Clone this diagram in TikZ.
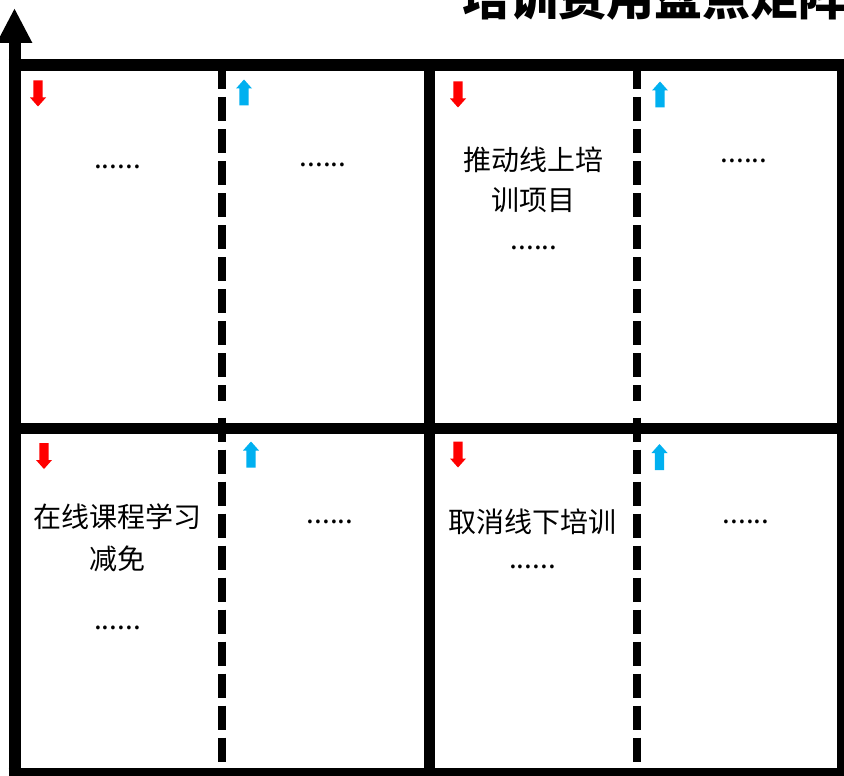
\documentclass[tikz,border=0pt]{standalone}
\usepackage{fontspec}
\newfontfamily\cjk{Noto Sans CJK SC}
\usetikzlibrary{arrows.meta}
\definecolor{downred}{HTML}{FF0000}
\definecolor{upblue}{HTML}{00B0F0}
\tikzset{
  cell/.style={font=\cjk\fontsize{28}{40}\selectfont, align=center, inner sep=0pt, text=black},
  dots/.style={font=\cjk\fontsize{28}{34}\selectfont, inner sep=0pt, text=black},
  titletext/.style={font=\cjk\bfseries\fontsize{48}{52}\selectfont, inner sep=0pt, text=black},
  thick line/.style={line width=12pt},
  mid line/.style={line width=11pt},
  dash line/.style={line width=8pt, dash pattern=on 24pt off 8pt},
  downarr/.pic={\fill[downred] (-4.6,-13) -- (4.6,-13) -- (4.6,4) -- (8,4) -- (0,13) -- (-8,4) -- (-4.6,4) -- cycle;},
  uparr/.pic={\fill[upblue] (-4.6,13) -- (4.6,13) -- (4.6,-4) -- (8,-4) -- (0,-13) -- (-8,-4) -- (-4.6,-4) -- cycle;},
}
\begin{document}
\begin{tikzpicture}[x=1pt,y=-1pt]
\useasboundingbox (0,0) rectangle (844,776);
\clip (0,0) rectangle (844,776);
\fill[white] (0,0) rectangle (844,776);
% title
\node[titletext, anchor=base west] (title) at (462,15.5) {培训费用盘点矩阵};
% dashed dividers
\draw[dash line] (222,65) -- (222,401);
\draw[dash line] (222,417.7) -- (222,790);
\draw[dash line] (637,65) -- (637,401);
\draw[dash line] (637,417.7) -- (637,790);
% grid
\draw[thick line] (8.5,65) -- (860,65);
\draw[thick line] (8.5,774) -- (860,774);
\draw[mid line] (14.5,428) -- (860,428);
\draw[mid line] (429.5,65) -- (429.5,790);
\draw[thick line] (843,59) -- (843,790);
% axis
\draw[thick line, -{Triangle[length=35pt,width=33pt]}] (14.5,790) -- (14.5,8);
% arrows
\pic at (38,93.5) {downarr};
\pic at (244,92.5) {uparr};
\pic at (458,94.5) {downarr};
\pic at (660,94.5) {uparr};
\pic at (44,456) {downarr};
\pic at (251,454.5) {uparr};
\pic at (458,454.5) {downarr};
\pic at (659.5,457) {uparr};
% texts
\node[dots] (tla) at (117.5,167) {......};
\node[dots] (tlb) at (323,165) {......};
\node[cell] (tra) at (533,180) {推动线上培\\训项目};
\node[dots] (trad) at (534,248) {......};
\node[dots] (trb) at (744,161) {......};
\node[cell, font=\cjk\fontsize{28}{42}\selectfont] (bla) at (117.5,537.5) {在线课程学习\\减免};
\node[dots] (blad) at (117.5,628) {......};
\node[dots] (blb) at (330,522) {......};
\node[cell] (bra) at (532.5,521.5) {取消线下培训};
\node[dots] (brad) at (532.5,567) {......};
\node[dots] (brb) at (746,522) {......};
\end{tikzpicture}
\end{document}
